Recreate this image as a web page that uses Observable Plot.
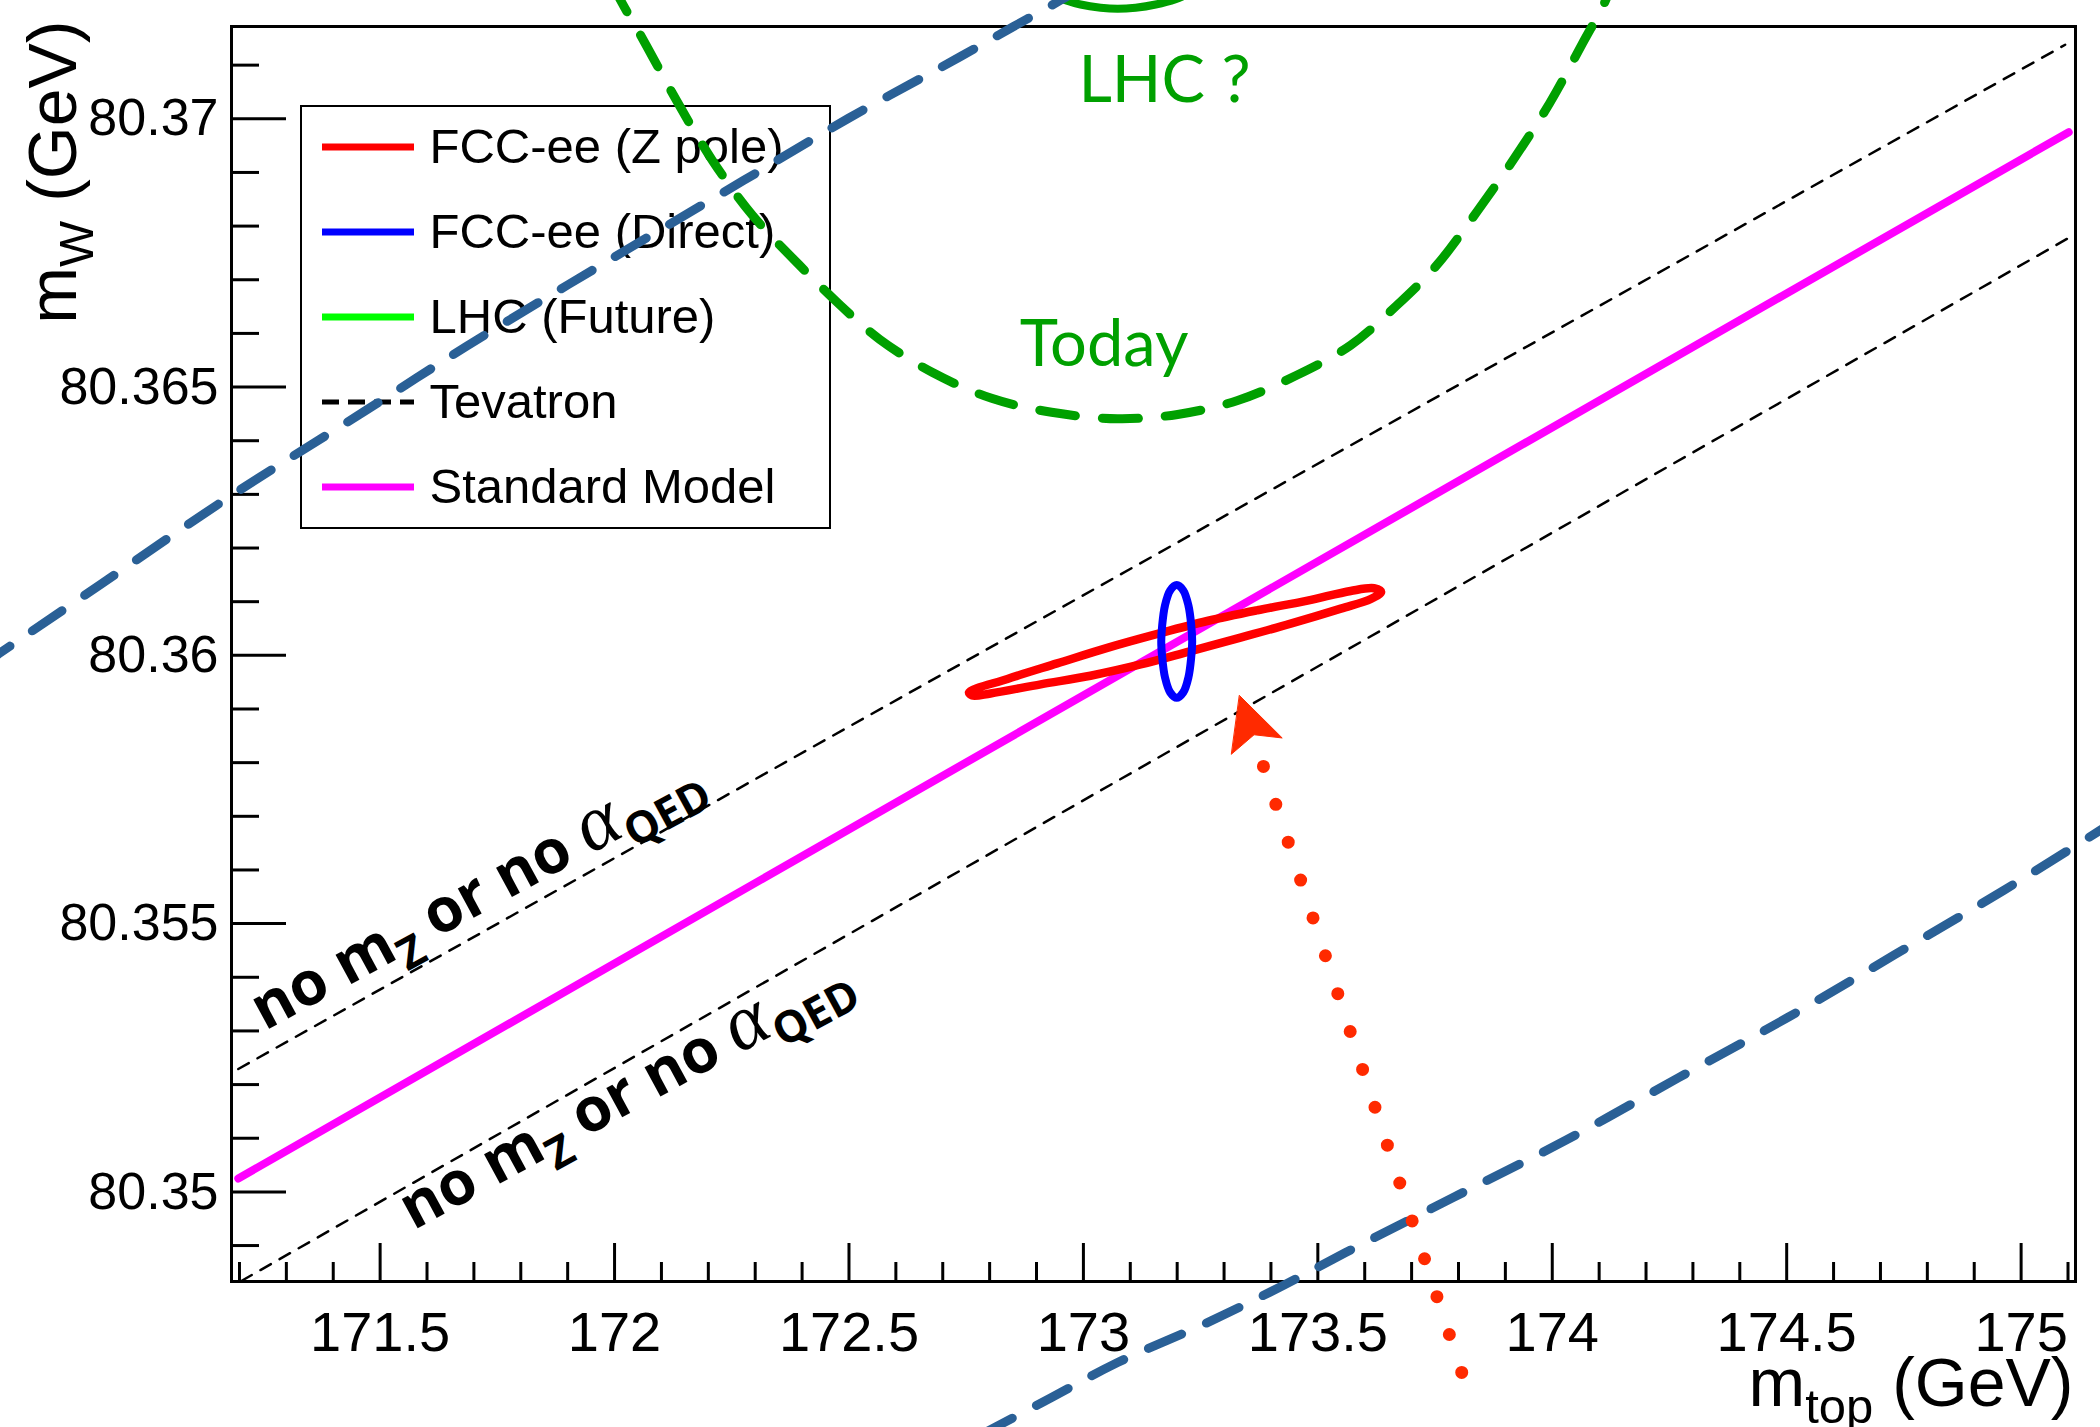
<!DOCTYPE html>
<html><head><meta charset="utf-8">
<script src="https://cdn.jsdelivr.net/npm/d3@7"></script>
<script src="https://cdn.jsdelivr.net/npm/@observablehq/plot@0.6"></script>
<style>
html,body{margin:0;padding:0;background:#fff;}
#wrap{position:relative;width:2100px;height:1427px;overflow:hidden;font-family:"Liberation Sans",Arial,sans-serif;}
#legend{position:absolute;left:300px;top:105px;width:531px;height:424px;box-sizing:border-box;border:2.5px solid #000;background:#fff;z-index:0}
#legend .row{position:absolute;left:0;height:60px;display:flex;align-items:center}
#legend .row span{font-size:49px;color:#000;margin-left:18px;line-height:1}
#chart{position:absolute;left:0;top:0;z-index:1}
</style></head><body><div id="wrap"><div id="legend"></div><div id="chart"></div></div>
<script>
// ---------- axis limits & ticks ----------
const xDomain = [171.183, 175.116];
const yDomain = [80.34833, 80.37172];
const xMajor = [171.5, 172, 172.5, 173, 173.5, 174, 174.5, 175];
const xTickLabels = ["171.5", "172", "172.5", "173", "173.5", "174", "174.5", "175"];
const xMinor = [171.2,171.3,171.4,171.6,171.7,171.8,171.9,172.1,172.2,172.3,172.4,172.6,172.7,172.8,172.9,173.1,173.2,173.3,173.4,173.6,173.7,173.8,173.9,174.1,174.2,174.3,174.4,174.6,174.7,174.8,174.9,175.1];
const yMajor = [80.35, 80.355, 80.36, 80.365, 80.37];
const yTickLabels = ["80.35", "80.355", "80.36", "80.365", "80.37"];
const yMinor = [80.349,80.351,80.352,80.353,80.354,80.356,80.357,80.358,80.359,80.361,80.362,80.363,80.364,80.366,80.367,80.368,80.369,80.371];

// ---------- series ----------
const smX = [171.1975, 175.1015];
const smY = [80.35025, 80.36975];
const tevUpX = [171.1975, 175.094];
const tevUpY = [80.35229, 80.37138];
const tevLoX = [171.204, 175.1015];
const tevLoY = [80.34834, 80.36778];

const zpoleX = [172.756,172.838,172.944,173.051,173.158,173.264,173.371,173.478,173.570,173.620,173.635,173.613,173.549,173.442,173.335,173.229,173.122,173.015,172.909,172.802,172.763];
const zpoleY = [80.35931,80.35956,80.35985,80.36014,80.36040,80.36064,80.36084,80.36102,80.36120,80.36125,80.36118,80.36105,80.36087,80.36059,80.36033,80.36008,80.35983,80.35962,80.35946,80.35929,80.35925];

const directX = [173.199,173.213,173.224,173.230,173.232,173.230,173.224,173.213,173.199,173.185,173.174,173.168,173.166,173.168,173.174,173.185];
const directY = [80.36131,80.36121,80.36093,80.36056,80.36026,80.35997,80.35959,80.35931,80.35921,80.35931,80.35959,80.35997,80.36026,80.36056,80.36093,80.36121];

const todayX = [171.9915,172.0128,172.0618,172.1322,172.209,172.2943,172.3946,172.4821,172.5653,172.6783,172.8042,172.9321,173.0729,173.2009,173.3289,173.4548,173.570,173.6681,173.7534,173.8387,173.9219,173.9944,174.0648,174.1139,174.1288];
const todayY = [80.37259,80.37221,80.37146,80.37034,80.36922,80.36820,80.36727,80.36652,80.36589,80.36527,80.36479,80.36453,80.36441,80.36449,80.36475,80.36522,80.36578,80.36652,80.36727,80.36826,80.36930,80.37029,80.37141,80.37221,80.37259];

const lhcX = [172.9193,172.9514,172.994,173.0367,173.0729,173.1113,173.154,173.1967,173.2393];
const lhcY = [80.37239,80.37224,80.37213,80.37207,80.37205,80.37207,80.37213,80.37223,80.37239];

const bandUpX = [170.6476,170.6902,170.9036,171.183,171.4688,171.6843,171.9701,172.2752,172.4991,172.738,172.8511,172.9514,172.994];
const bandUpY = [80.35979,80.36005,80.36132,80.36298,80.36456,80.36576,80.36727,80.36885,80.37001,80.37116,80.37172,80.37221,80.37243];
const bandLoX = [172.7807,172.930,173.0729,173.2734,173.4292,173.5593,173.7876,174.0307,174.2696,174.5021,174.7304,174.9629,175.2124];
const bandLoY = [80.34547,80.34616,80.34682,80.34760,80.34827,80.34887,80.34989,80.35097,80.35213,80.35325,80.35442,80.35562,80.35698];

const arrowTailX = [173.384, 173.809];
const arrowTailY = [80.35793, 80.34658];
const arrowHeadX = [173.333, 173.424, 173.364, 173.316];
const arrowHeadY = [80.35925, 80.35846, 80.35852, 80.35816];

// ---------- annotations ----------
const noLabelText = ["no m_{Z} or no α_{QED}", "no m_{Z} or no α_{QED}"];
const noLabelX = [171.2545, 171.5712];
const noLabelY = [80.35300, 80.34928];
const greenLabelText = ["LHC ?", "Today"];
const greenLabelX = [173.173, 173.044];
const greenLabelY = [80.37032, 80.36540];

const legendLabels = ["FCC-ee (Z pole)", "FCC-ee (Direct)", "LHC (Future)", "Tevatron", "Standard Model"];
const legendColors = ["#ff0000", "#0000ff", "#00ff00", "#000000", "#ff00ff"];

// ---------- helpers ----------
const pts = (xs, ys) => xs.map((x, i) => ({x, y: ys[i]}));
const W = 2100, H = 1427, ML = 231, MR = 25, MT = 26, MB = 146;
const PW = W - ML - MR, PH = H - MT - MB;
const BLUE_DASH = "#2a6096", GREEN_DASH = "#00a000", ARROW = "#ff2a00";

const noLabels = noLabelText.map((t, i) => ({t, x: noLabelX[i], y: noLabelY[i]}));
const greenLabels = greenLabelText.map((t, i) => ({t, x: greenLabelX[i], y: greenLabelY[i]}));

const svg = Plot.plot({
  width: W, height: H,
  marginLeft: ML, marginRight: MR, marginTop: MT, marginBottom: MB,
  x: {domain: xDomain},
  y: {domain: yDomain},
  style: {fontFamily: "Liberation Sans, Arial, sans-serif", background: "transparent", color: "black"},
  marks: [
    // ticks (inward)
    Plot.tickY(yMinor, {y: d => d, insetRight: PW - 28, stroke: "black", strokeWidth: 3}),
    Plot.tickY(yMajor, {y: d => d, insetRight: PW - 55, stroke: "black", strokeWidth: 3}),
    Plot.tickX(xMinor, {x: d => d, insetTop: PH - 19, stroke: "black", strokeWidth: 3}),
    Plot.tickX(xMajor, {x: d => d, insetTop: PH - 38, stroke: "black", strokeWidth: 3}),
    Plot.frame({stroke: "black", strokeWidth: 3}),
    Plot.axisY({ticks: yMajor, tickSize: 0, tickPadding: 13, tickFormat: d => yTickLabels[yMajor.indexOf(d)], fontSize: 52, label: null}),
    Plot.axisX({ticks: xMajor, tickSize: 0, tickPadding: 30, tickFormat: d => xTickLabels[xMajor.indexOf(d)], fontSize: 56, label: null}),
    // Tevatron band
    Plot.line(pts(tevUpX, tevUpY), {x: "x", y: "y", stroke: "black", strokeWidth: 2.5, strokeDasharray: "12,10"}),
    Plot.line(pts(tevLoX, tevLoY), {x: "x", y: "y", stroke: "black", strokeWidth: 2.5, strokeDasharray: "12,10"}),
    // Standard model
    Plot.line(pts(smX, smY), {x: "x", y: "y", stroke: "#ff00ff", strokeWidth: 8}),
    // FCC-ee ellipses
    Plot.line(pts(zpoleX, zpoleY), {x: "x", y: "y", stroke: "#ff0000", strokeWidth: 8.5, curve: "catmull-rom-closed"}),
    Plot.line(pts(directX, directY), {x: "x", y: "y", stroke: "#0000ff", strokeWidth: 8, curve: "catmull-rom-closed"}),
    // LHC
    Plot.line(pts(todayX, todayY), {x: "x", y: "y", stroke: GREEN_DASH, strokeWidth: 9, strokeDasharray: "36,27", curve: "catmull-rom"}),
    Plot.line(pts(lhcX, lhcY), {x: "x", y: "y", stroke: GREEN_DASH, strokeWidth: 8, curve: "catmull-rom"}),
    // blue dashed band
    Plot.line(pts(bandUpX, bandUpY), {x: "x", y: "y", stroke: BLUE_DASH, strokeWidth: 9, strokeDasharray: "36,27", curve: "catmull-rom"}),
    Plot.line(pts(bandLoX, bandLoY), {x: "x", y: "y", stroke: BLUE_DASH, strokeWidth: 9, strokeDasharray: "36,27", curve: "catmull-rom"}),
    // red dotted arrow
    Plot.line(pts(arrowTailX, arrowTailY), {x: "x", y: "y", stroke: ARROW, strokeWidth: 13, strokeLinecap: "round", strokeDasharray: "0,39.85"}),
    Plot.line(pts(arrowHeadX, arrowHeadY), {x: "x", y: "y", fill: ARROW, stroke: ARROW, strokeWidth: 1, curve: "linear-closed"}),
    // texts
    Plot.text(greenLabels, {x: "x", y: "y", text: "t", fill: GREEN_DASH, fontFamily: "Lato", fontSize: 65, textAnchor: "middle", lineAnchor: "bottom"}),
    Plot.text(noLabels, {x: "x", y: "y", text: "t", fill: "black", fontFamily: "Open Sans", fontWeight: "bold", fontSize: 61, rotate: -28.5, textAnchor: "start", lineAnchor: "bottom"}),
    Plot.text(["m_{top} (GeV)"], {frameAnchor: "bottom-right", text: d => d, fontSize: 68, textAnchor: "end", lineAnchor: "bottom", dx: -2, dy: 124}),
    Plot.text(["m_{W} (GeV)"], {frameAnchor: "top-left", text: d => d, fontSize: 68, rotate: -90, textAnchor: "end", lineAnchor: "bottom", dx: 75 - ML, dy: 20 - MT})
  ]
});

// rich text: subscripts and greek
const NS = "http://www.w3.org/2000/svg";
svg.querySelectorAll("text").forEach(el => {
  const s = el.textContent;
  if (!s.includes("_{")) return;
  let fs = 60;
  for (let n = el; n && n !== svg; n = n.parentNode) {
    const a = n.getAttribute && n.getAttribute("font-size");
    if (a) { fs = parseFloat(a); break; }
  }
  el.textContent = "";
  const re = /_\{([^}]*)\}|(α)|([^_α]+)/g;
  let m, shifted = false;
  const sh = fs * 0.26;
  while ((m = re.exec(s))) {
    const t = document.createElementNS(NS, "tspan");
    if (m[1] !== undefined) {
      t.textContent = m[1];
      t.setAttribute("font-size", fs * 0.72);
      t.setAttribute("dy", sh);
      shifted = true;
    } else {
      t.textContent = m[2] || m[3];
      if (shifted) { t.setAttribute("dy", -sh); shifted = false; }
      if (m[2]) {
        t.setAttribute("font-family", "Liberation Serif, DejaVu Serif, serif");
        t.setAttribute("font-style", "italic");
        t.setAttribute("font-weight", "normal");
        t.setAttribute("font-size", fs * 1.3);
      }
    }
    el.appendChild(t);
  }
});
document.getElementById("chart").appendChild(svg);

// legend (beneath the chart svg so lines overlay it)
const legend = document.getElementById("legend");
legendLabels.forEach((lab, i) => {
  const row = document.createElement("div");
  row.className = "row";
  row.style.top = (42 + i * 85 - 30 - 2.5) + "px";
  const dashed = lab === "Tevatron";
  row.innerHTML = `<svg width="112" height="20" style="margin-left:17.5px;margin-right:-20px"><line x1="2" x2="94" y1="10" y2="10" stroke="${legendColors[i]}" stroke-width="${dashed ? 5 : 7}" ${dashed ? 'stroke-dasharray="17,9"' : ''}/></svg>`;
  const sp = document.createElement("span");
  sp.textContent = lab;
  row.appendChild(sp);
  legend.appendChild(row);
});
</script>
</body></html>
